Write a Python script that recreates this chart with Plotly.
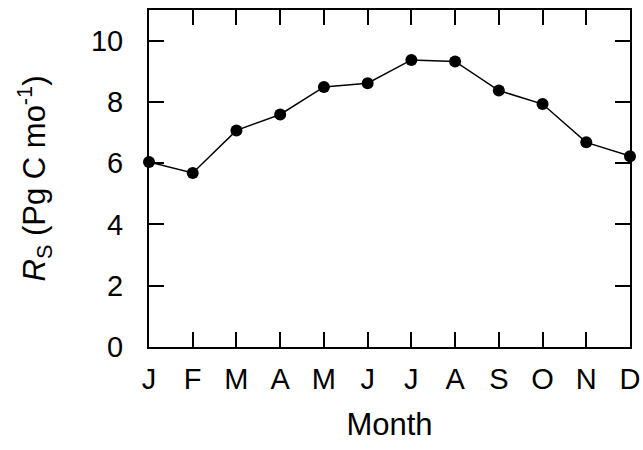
import plotly.graph_objects as go

months = ["J", "F", "M", "A", "M", "J", "J", "A", "S", "O", "N", "D"]
month_idx = list(range(1, 13))
rs_values = [6.04, 5.68, 7.07, 7.59, 8.49, 8.61, 9.37, 9.32, 8.37, 7.93, 6.68, 6.23]
y_ticks = [0, 2, 4, 6, 8, 10]

FONT = "Liberation Sans, Arial, Helvetica, sans-serif"
FS = 29
TFS = 31

fig = go.Figure()
fig.add_trace(go.Scatter(
    x=month_idx, y=rs_values, mode="lines+markers",
    line=dict(color="black", width=1.5),
    marker=dict(color="black", size=12),
    cliponaxis=False, showlegend=False,
))

axis_common = dict(
    showline=True, linecolor="black", linewidth=2, mirror="ticks",
    ticks="inside", ticklen=15, tickwidth=2, tickcolor="black",
    showgrid=False, zeroline=False, automargin=False,
    tickfont=dict(family=FONT, size=FS, color="black"),
)

fig.update_xaxes(
    range=[1, 12], tickmode="array", tickvals=month_idx, ticktext=months,
    title=dict(text="Month", font=dict(family=FONT, size=TFS, color="black"), standoff=20),
    ticklabelstandoff=5,
    **axis_common,
)
fig.update_yaxes(
    range=[0, 11], tickmode="array", tickvals=y_ticks,
    ticktext=[str(v) for v in y_ticks],
    title=dict(text="<i>R</i><sub>S</sub> (Pg C mo<sup>-1</sup>)",
               font=dict(family=FONT, size=TFS, color="black"), standoff=36),
    ticklabelstandoff=18,
    **axis_common,
)

fig.update_layout(
    width=643, height=450,
    margin=dict(l=149, r=13, t=10, b=103),
    plot_bgcolor="white", paper_bgcolor="white",
    font=dict(family=FONT, color="black"),
)

fig.write_html("out.html", config={"displayModeBar": False},
               post_script="document.body.style.margin='0';")
